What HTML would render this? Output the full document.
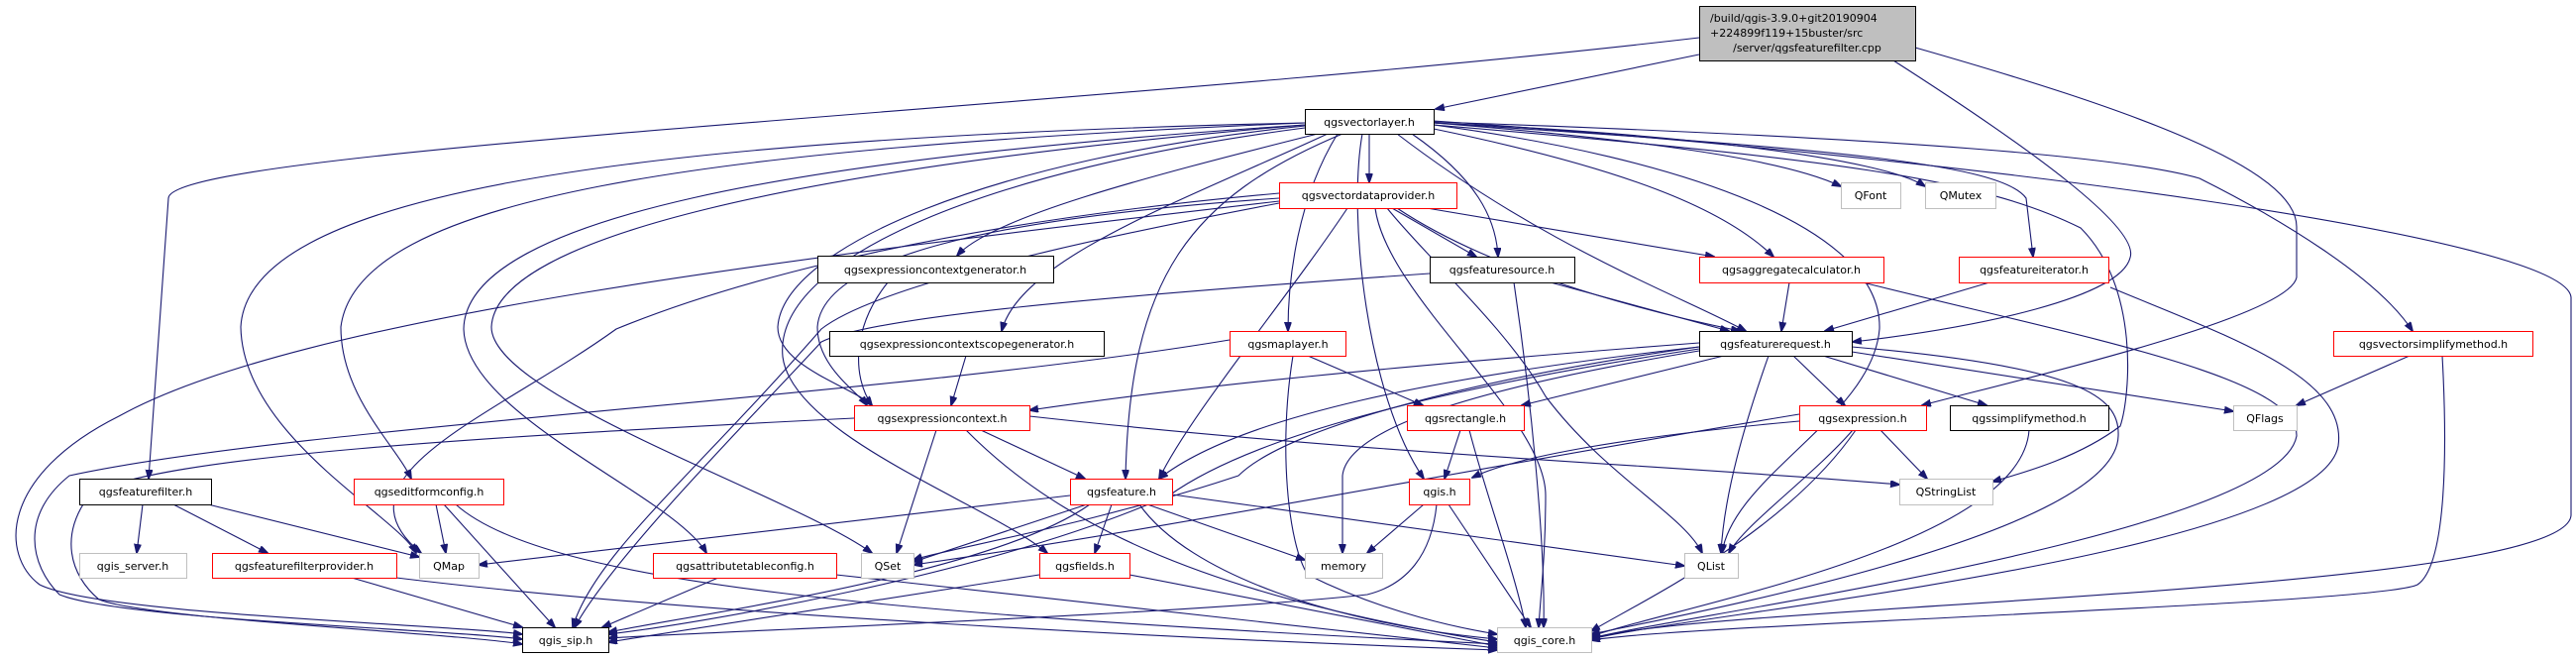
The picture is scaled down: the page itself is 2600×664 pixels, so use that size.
<!DOCTYPE html>
<html><head><meta charset="utf-8"><style>
html,body{margin:0;padding:0;background:#fff;}
svg{display:block;}
text{font-family:"DejaVu Sans","Liberation Sans",sans-serif;font-size:11px;fill:#000;}
.e{fill:none;stroke:#191970;stroke-width:1.1;marker-end:url(#a);}
.b{fill:#fff;stroke:#000;stroke-width:1;}
.r{fill:#fff;stroke:#ff0000;stroke-width:1;}
.g{fill:#fff;stroke:#bfbfbf;stroke-width:1;}
</style></head><body>
<svg width="2600" height="664" viewBox="0 0 2600 664" xmlns="http://www.w3.org/2000/svg">
<defs><marker id="a" markerWidth="10" markerHeight="8" refX="9" refY="3.5" orient="auto" markerUnits="userSpaceOnUse"><path d="M0,0 L10,3.5 L0,7 z" fill="#191970" stroke="#191970"/></marker></defs>
<g>
<path class="e" d="M1715,55 L1449,110"/>
<path class="e" d="M1715,38 C1100,110 172,150 170,200 L150,483"/>
<path class="e" d="M1911,61 C2050,150 2160,230 2150,260 C2140,300 2000,330 1870,345"/>
<path class="e" d="M1933,48 C2150,110 2320,170 2318,230 L2318,280 C2310,320 2050,380 1940,409"/>
<path class="e" d="M1382,135 L1382,184"/>
<path class="e" d="M1447,124 C1650,140 1800,160 1858,188"/>
<path class="e" d="M1447,124 C1700,135 1900,160 1943,188"/>
<path class="e" d="M1425,135 C1490,180 1510,220 1512,259"/>
<path class="e" d="M1447,130 C1640,170 1740,210 1790,259"/>
<path class="e" d="M1447,124 C1850,150 2020,165 2045,200 L2052,259"/>
<path class="e" d="M1410,135 C1560,250 1700,300 1762,334"/>
<path class="e" d="M1447,123 C1950,140 2150,160 2220,180 C2300,220 2400,280 2435,334"/>
<path class="e" d="M1447,122 C2000,160 2590,240 2595,300 L2595,520 C2590,600 1700,610 1606,645"/>
<path class="e" d="M1447,126 C1850,160 2000,180 2100,230 C2160,290 2150,400 2140,430 C2100,460 2050,475 2011,486"/>
<path class="e" d="M1447,126 C1700,160 1900,230 1897,332 C1890,420 1750,480 1738,558"/>
<path class="e" d="M1375,135 C1360,220 1380,400 1437,483"/>
<path class="e" d="M1350,135 C1310,200 1300,280 1300,334"/>
<path class="e" d="M1330,135 C1150,180 1000,220 966,258"/>
<path class="e" d="M1340,135 C1200,200 1030,260 1011,334"/>
<path class="e" d="M1317,127 C1000,160 790,250 785,330 C785,370 860,390 880,409"/>
<path class="e" d="M1355,135 C1200,200 1140,280 1136,483"/>
<path class="e" d="M1317,129 C1000,170 780,260 790,360 C800,440 1000,510 1057,558"/>
<path class="e" d="M1317,126 C800,170 500,240 496,330 C496,400 800,500 880,558"/>
<path class="e" d="M1317,126 C800,160 470,220 468,332 C470,420 680,500 713,558"/>
<path class="e" d="M1317,124 C700,150 360,200 344,330 C344,400 400,450 415,483"/>
<path class="e" d="M1317,124 C600,140 250,200 243,330 C245,440 400,520 420,558"/>
<path class="e" d="M1291,200 C1000,220 830,260 825,330 C825,370 865,395 875,409"/>
<path class="e" d="M1291,195 C900,230 700,300 622,332 C500,420 330,480 425,558"/>
<path class="e" d="M1291,205 C1000,260 870,300 829,332 C700,480 600,560 578,633"/>
<path class="e" d="M1291,203 C800,260 300,320 120,420 C0,480 0,560 40,590 C100,620 450,630 527,640"/>
<path class="e" d="M1405,210 L1490,259"/>
<path class="e" d="M1440,210 L1730,259"/>
<path class="e" d="M1410,210 C1500,270 1640,310 1756,334"/>
<path class="e" d="M1360,210 C1300,300 1200,420 1170,483"/>
<path class="e" d="M1388,210 C1400,300 1560,420 1560,500 C1560,560 1555,600 1553,633"/>
<path class="e" d="M1400,210 C1440,260 1520,330 1560,400 C1620,480 1700,520 1718,558"/>
<path class="e" d="M1241,343 C900,400 300,430 70,480 C20,520 30,570 60,600 C120,625 450,635 527,645"/>
<path class="e" d="M862,422 C500,440 150,460 90,500 C60,540 70,580 100,605 C150,625 450,638 527,650"/>
<path class="e" d="M1443,276 C1100,300 880,320 829,345 C760,420 620,560 580,633"/>
<path class="e" d="M1715,346 C1400,370 1200,390 1039,414"/>
<path class="e" d="M1715,350 C1450,380 1250,420 1170,483"/>
<path class="e" d="M1715,352 C1400,400 1250,450 1180,500 C1000,580 700,630 614,640"/>
<path class="e" d="M1715,350 C1500,380 1300,430 1250,480 C1100,530 950,555 922,565"/>
<path class="e" d="M1740,359 L1536,409"/>
<path class="e" d="M1715,354 C1500,390 1360,430 1355,480 L1355,558"/>
<path class="e" d="M1810,359 L1862,409"/>
<path class="e" d="M1840,359 L2005,409"/>
<path class="e" d="M1869,355 L2254,415"/>
<path class="e" d="M1785,359 C1760,430 1740,500 1737,558"/>
<path class="e" d="M1869,350 C2100,370 2140,400 2138,440 C2135,540 1700,620 1606,640"/>
<path class="e" d="M2048,434 C2040,550 1700,610 1606,642"/>
<path class="e" d="M1873,434 C1800,540 1650,610 1606,637"/>
<path class="e" d="M1816,425 C1650,440 1530,460 1486,482"/>
<path class="e" d="M1816,418 C1500,470 1200,530 922,570"/>
<path class="e" d="M1898,434 L1945,483"/>
<path class="e" d="M1870,434 C1830,480 1760,530 1745,558"/>
<path class="e" d="M1474,434 L1458,483"/>
<path class="e" d="M1483,434 C1500,500 1530,580 1540,633"/>
<path class="e" d="M1437,509 L1380,558"/>
<path class="e" d="M1462,509 L1545,633"/>
<path class="e" d="M1450,509 C1445,560 1420,590 1380,600 C1200,620 700,638 614,644"/>
<path class="e" d="M1320,359 L1436,409"/>
<path class="e" d="M1305,359 C1290,450 1300,550 1320,580 C1400,620 1480,635 1511,640"/>
<path class="e" d="M990,434 L1095,483"/>
<path class="e" d="M945,434 L905,558"/>
<path class="e" d="M975,434 C1060,520 1200,600 1511,648"/>
<path class="e" d="M1039,420 C1400,460 1700,470 1917,489"/>
<path class="e" d="M1080,500 L483,570"/>
<path class="e" d="M1097,509 L922,567"/>
<path class="e" d="M1122,509 L1105,558"/>
<path class="e" d="M1158,509 L1317,565"/>
<path class="e" d="M1183,499 L1700,571"/>
<path class="e" d="M1150,509 C1200,580 1350,630 1511,645"/>
<path class="e" d="M1100,509 C1000,580 700,620 614,638"/>
<path class="e" d="M1049,580 L614,648"/>
<path class="e" d="M1140,580 L1511,652"/>
<path class="e" d="M725,583 L608,633"/>
<path class="e" d="M844,580 L1511,654"/>
<path class="e" d="M355,583 L527,633"/>
<path class="e" d="M400,583 C700,620 1200,645 1511,656"/>
<path class="e" d="M144,509 L138,558"/>
<path class="e" d="M175,509 L270,558"/>
<path class="e" d="M210,509 L423,562"/>
<path class="e" d="M440,509 L450,558"/>
<path class="e" d="M448,509 L560,633"/>
<path class="e" d="M460,509 C550,590 900,620 1511,650"/>
<path class="e" d="M1565,285 L1745,334"/>
<path class="e" d="M1528,285 C1545,400 1560,550 1558,633"/>
<path class="e" d="M1806,285 L1798,334"/>
<path class="e" d="M1880,285 C2100,340 2320,380 2318,440 C2300,540 1700,620 1606,644"/>
<path class="e" d="M2008,285 L1842,334"/>
<path class="e" d="M2130,290 C2250,340 2370,380 2360,450 C2340,560 1700,620 1606,645"/>
<path class="e" d="M2432,359 L2318,409"/>
<path class="e" d="M2465,359 C2470,450 2470,570 2440,590 C2400,610 1700,630 1606,646"/>
<path class="e" d="M896,285 C860,330 860,380 880,409"/>
<path class="e" d="M975,359 L960,409"/>
</g>
<g>
<rect x="1715.5" y="6.5" width="218" height="55" fill="#bfbfbf" stroke="#000"/>
<text x="1726" y="22">/build/qgis-3.9.0+git20190904</text>
<text x="1726" y="37">+224899f119+15buster/src</text>
<text x="1824" y="52" text-anchor="middle">/server/qgsfeaturefilter.cpp</text>
<rect class="b" x="1317.5" y="110.5" width="130" height="25"/><text x="1382" y="127" text-anchor="middle">qgsvectorlayer.h</text>
<rect class="r" x="1291.5" y="184.5" width="179" height="26"/><text x="1381" y="201" text-anchor="middle">qgsvectordataprovider.h</text>
<rect class="g" x="1858.5" y="184.5" width="60" height="26"/><text x="1888" y="201" text-anchor="middle">QFont</text>
<rect class="g" x="1943.5" y="184.5" width="71" height="26"/><text x="1979" y="201" text-anchor="middle">QMutex</text>
<rect class="b" x="825.5" y="258.5" width="238" height="27"/><text x="944" y="276" text-anchor="middle">qgsexpressioncontextgenerator.h</text>
<rect class="b" x="1443.5" y="259.5" width="146" height="26"/><text x="1516" y="276" text-anchor="middle">qgsfeaturesource.h</text>
<rect class="r" x="1715.5" y="259.5" width="186" height="26"/><text x="1808" y="276" text-anchor="middle">qgsaggregatecalculator.h</text>
<rect class="r" x="1977.5" y="259.5" width="151" height="26"/><text x="2053" y="276" text-anchor="middle">qgsfeatureiterator.h</text>
<rect class="b" x="837.5" y="334.5" width="277" height="25"/><text x="976" y="351" text-anchor="middle">qgsexpressioncontextscopegenerator.h</text>
<rect class="r" x="1241.5" y="334.5" width="117" height="25"/><text x="1300" y="351" text-anchor="middle">qgsmaplayer.h</text>
<rect class="b" x="1715.5" y="334.5" width="154" height="25"/><text x="1792" y="351" text-anchor="middle">qgsfeaturerequest.h</text>
<rect class="r" x="2355.5" y="334.5" width="201" height="25"/><text x="2456" y="351" text-anchor="middle">qgsvectorsimplifymethod.h</text>
<rect class="r" x="862.5" y="409.5" width="177" height="25"/><text x="951" y="426" text-anchor="middle">qgsexpressioncontext.h</text>
<rect class="r" x="1420.5" y="409.5" width="118" height="25"/><text x="1479" y="426" text-anchor="middle">qgsrectangle.h</text>
<rect class="r" x="1816.5" y="409.5" width="128" height="25"/><text x="1880" y="426" text-anchor="middle">qgsexpression.h</text>
<rect class="b" x="1968.5" y="409.5" width="160" height="25"/><text x="2048" y="426" text-anchor="middle">qgssimplifymethod.h</text>
<rect class="g" x="2254.5" y="409.5" width="64" height="25"/><text x="2286" y="426" text-anchor="middle">QFlags</text>
<rect class="b" x="80.5" y="483.5" width="133" height="26"/><text x="147" y="500" text-anchor="middle">qgsfeaturefilter.h</text>
<rect class="r" x="357.5" y="483.5" width="151" height="26"/><text x="433" y="500" text-anchor="middle">qgseditformconfig.h</text>
<rect class="r" x="1080.5" y="483.5" width="103" height="26"/><text x="1132" y="500" text-anchor="middle">qgsfeature.h</text>
<rect class="r" x="1422.5" y="483.5" width="61" height="26"/><text x="1453" y="500" text-anchor="middle">qgis.h</text>
<rect class="g" x="1917.5" y="483.5" width="94" height="26"/><text x="1964" y="500" text-anchor="middle">QStringList</text>
<rect class="g" x="80.5" y="558.5" width="108" height="25"/><text x="134" y="575" text-anchor="middle">qgis_server.h</text>
<rect class="r" x="214.5" y="558.5" width="186" height="25"/><text x="307" y="575" text-anchor="middle">qgsfeaturefilterprovider.h</text>
<rect class="g" x="423.5" y="558.5" width="60" height="25"/><text x="453" y="575" text-anchor="middle">QMap</text>
<rect class="r" x="659.5" y="558.5" width="185" height="25"/><text x="752" y="575" text-anchor="middle">qgsattributetableconfig.h</text>
<rect class="g" x="869.5" y="558.5" width="53" height="25"/><text x="896" y="575" text-anchor="middle">QSet</text>
<rect class="r" x="1049.5" y="558.5" width="91" height="25"/><text x="1095" y="575" text-anchor="middle">qgsfields.h</text>
<rect class="g" x="1317.5" y="558.5" width="78" height="25"/><text x="1356" y="575" text-anchor="middle">memory</text>
<rect class="g" x="1700.5" y="558.5" width="54" height="25"/><text x="1727" y="575" text-anchor="middle">QList</text>
<rect class="b" x="527.5" y="633.5" width="87" height="25"/><text x="571" y="650" text-anchor="middle">qgis_sip.h</text>
<rect class="g" x="1511.5" y="633.5" width="95" height="25"/><text x="1559" y="650" text-anchor="middle">qgis_core.h</text>
</g>
</svg>
</body></html>
